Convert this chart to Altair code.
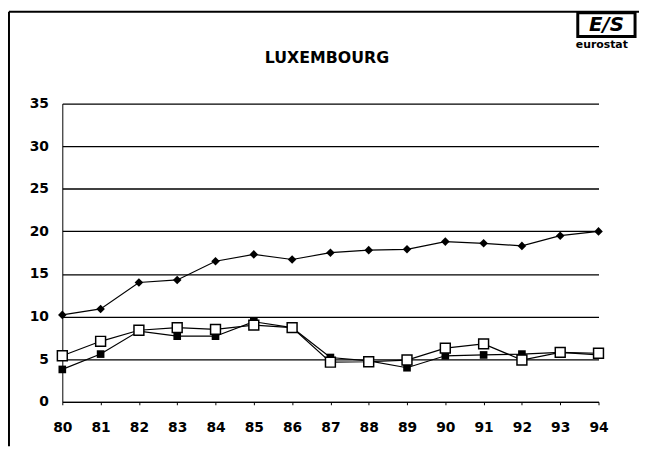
import altair as alt
import pandas as pd

years = list(range(80, 95))
diamond_vals = [10.2, 10.9, 14.0, 14.3, 16.5, 17.3, 16.7, 17.5, 17.8, 17.9, 18.8, 18.6, 18.3, 19.5, 20.0]
filled_vals = [3.8, 5.6, 8.3, 7.7, 7.7, 9.4, 8.7, 5.2, 4.8, 4.0, 5.4, 5.5, 5.6, 5.8, 5.5]
open_vals = [5.4, 7.1, 8.4, 8.7, 8.5, 9.0, 8.7, 4.65, 4.7, 4.9, 6.3, 6.8, 4.9, 5.8, 5.7]
y_ticks = [0, 5, 10, 15, 20, 25, 30, 35]
title_text = "LUXEMBOURG"

W, H = 543, 302
PL, PT, PR, PB = 55, 94, 41, 45
FONT = "DejaVu Sans"

df = pd.DataFrame({"year": [str(y) for y in years], "d": diamond_vals, "f": filled_vals, "o": open_vals})
base = alt.Chart(df)

xenc = alt.X("year:O", sort=None, scale=alt.Scale(type="point", padding=0),
             axis=alt.Axis(grid=False, domainColor="black", labelAngle=0,
                           tickColor="black", tickSize=3, labelPadding=16,
                           labelOverlap=False, labelFlush=False, labelBound=False,
                           labelFontSize=14, labelFont=FONT, labelFontWeight="bold",
                           labelColor="black", title=None))
yscale = alt.Scale(domain=[0, 35], nice=False)
yaxis = alt.Axis(values=y_ticks, grid=True, gridColor="black", gridWidth=1.3, gridOpacity=1,
                 domainColor="black", ticks=False, labelPadding=14, labelFontSize=14,
                 labelOverlap=False, labelFlush=False,
                 labelFont=FONT, labelFontWeight="bold", labelColor="black", title=None)

d_line = base.mark_line(color="black", strokeWidth=1.2).encode(x=xenc, y=alt.Y("d:Q", scale=yscale, axis=yaxis))
d_pts = base.mark_point(shape="diamond", filled=True, color="black", size=75, opacity=1).encode(
    x=xenc, y=alt.Y("d:Q", scale=yscale, axis=yaxis))
f_line = base.mark_line(color="black", strokeWidth=1.2).encode(x=xenc, y=alt.Y("f:Q", scale=yscale, axis=yaxis))
f_pts = base.mark_point(shape="square", filled=True, color="black", size=60, opacity=1).encode(
    x=xenc, y=alt.Y("f:Q", scale=yscale, axis=yaxis))
o_line = base.mark_line(color="black", strokeWidth=1.2).encode(x=xenc, y=alt.Y("o:Q", scale=yscale, axis=yaxis))
o_pts = base.mark_point(shape="square", filled=True, fill="white", stroke="black", strokeWidth=1.5,
                        size=100, opacity=1).encode(x=xenc, y=alt.Y("o:Q", scale=yscale, axis=yaxis))

title = alt.Chart(pd.DataFrame({"t": [title_text]})).mark_text(
    font=FONT, fontSize=16, fontWeight="bold", color="black", align="center", baseline="middle"
).encode(text="t:N", x=alt.value(268), y=alt.value(-46))

frame_top = alt.Chart(pd.DataFrame({"a": [0]})).mark_rule(color="black", strokeWidth=2).encode(
    x=alt.value(-PL + 1), x2=alt.value(W + PR), y=alt.value(-PT + 1))
frame_left = alt.Chart(pd.DataFrame({"a": [0]})).mark_rule(color="black", strokeWidth=2).encode(
    x=alt.value(-PL + 1), y=alt.value(-PT + 1), y2=alt.value(H + PB))

logo_box = alt.Chart(pd.DataFrame({"a": [0]})).mark_rect(fill="white", stroke="black", strokeWidth=3).encode(
    x=alt.value(522), x2=alt.value(580), y=alt.value(-92), y2=alt.value(-68))
logo_es = alt.Chart(pd.DataFrame({"t": ["E/S"]})).mark_text(
    font=FONT, fontSize=20, fontWeight="bold", fontStyle="italic", color="black", align="center", baseline="middle"
).encode(text="t:N", x=alt.value(551), y=alt.value(-80))
logo_txt = alt.Chart(pd.DataFrame({"t": ["eurostat"]})).mark_text(
    font=FONT, fontSize=11, fontWeight="bold", color="black", align="left", baseline="middle"
).encode(text="t:N", x=alt.value(520), y=alt.value(-59))

chart = alt.layer(
    d_line, f_line, o_line, d_pts, f_pts, o_pts, title, frame_top, frame_left, logo_box, logo_es, logo_txt
).properties(
    width=W, height=H, autosize=alt.AutoSizeParams(type="none"),
    padding={"left": PL, "top": PT, "right": PR, "bottom": PB}, background="white"
).configure_view(stroke=None)

chart.save("out.html", embed_options={"renderer": "svg", "actions": False})
